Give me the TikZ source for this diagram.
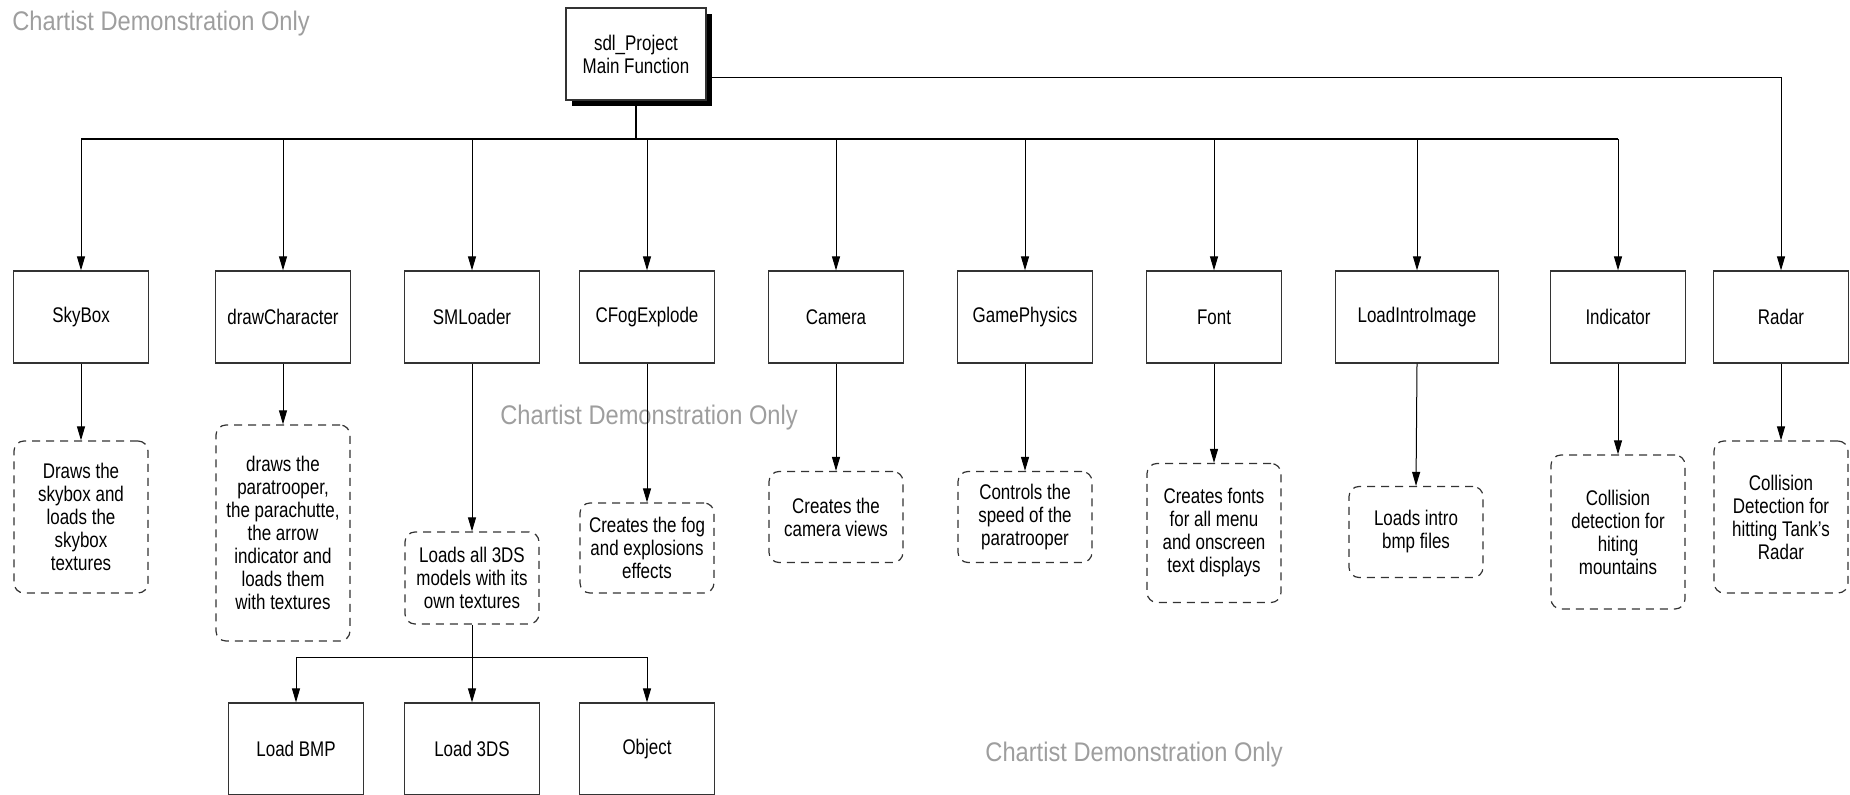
\documentclass[tikz,border=0pt]{standalone}
\usepackage{fontspec}
\setmainfont{Liberation Sans}[FakeStretch=0.8]
\newfontfamily\wmfont{Liberation Sans}[FakeStretch=0.88]
\usetikzlibrary{arrows.meta,shadows}

\begin{document}
\begin{tikzpicture}[x=0.5pt,y=-0.5pt,
  modbox/.style={draw=black!80,line width=0.6pt,fill=white,minimum width=67.5pt,minimum height=46pt,align=center,font=\fontsize{10.6}{11.5}\selectfont},
  notebox/.style={draw=black!80,dash pattern=on 4pt off 3pt,rounded corners=5pt,line width=0.6pt,minimum width=67pt,align=center,inner sep=2pt,font=\fontsize{10.6}{11.5}\selectfont},
  arr/.style={-{Triangle[length=7pt,width=4pt]},line width=0.5pt},
  wmark/.style={anchor=west,text=black!38,inner sep=0pt,font=\wmfont\fontsize{13.45}{16}\selectfont}]
\clip (0,0) rectangle (1850,795);
% watermark
\node[wmark] (wmtop) at (12,24) {Chartist Demonstration Only};
\node[wmark] (wmmid) at (500,418) {Chartist Demonstration Only};
\node[wmark] (wmbot) at (985,755) {Chartist Demonstration Only};
% main
\node[modbox,minimum width=70pt,drop shadow={shadow xshift=3pt,shadow yshift=-3pt,fill=black,opacity=1}] (main) at (636,54) {sdl\_Project\\Main Function};
\coordinate (bus) at (636,139);
\coordinate (subbus) at (472,657);
% modules
\node[modbox] (skybox) at (81,317) {SkyBox};
\node[modbox] (drawchar) at (283,317) {drawCharacter};
\node[modbox] (smloader) at (472,317) {SMLoader};
\node[modbox] (cfog) at (647,317) {CFogExplode};
\node[modbox] (camera) at (836,317) {Camera};
\node[modbox] (physics) at (1025,317) {GamePhysics};
\node[modbox] (font) at (1214,317) {Font};
\node[modbox,minimum width=81.5pt] (intro) at (1417,317) {LoadIntroImage};
\node[modbox] (indicator) at (1618,317) {Indicator};
\node[modbox] (radar) at (1781,317) {Radar};
% notes
\node[notebox,minimum height=76pt] (skybox-txt) at (81,517) {Draws the\\skybox and\\loads the\\skybox\\textures};
\node[notebox,minimum height=108pt] (drawchar-txt) at (283,533) {draws the\\paratrooper,\\the parachutte,\\the arrow\\indicator and\\loads them\\with textures};
\node[notebox,minimum height=46pt] (smloader-txt) at (472,578) {Loads all 3DS\\models with its\\own textures};
\node[notebox,minimum height=45pt] (cfog-txt) at (647,548) {Creates the fog\\and explosions\\effects};
\node[notebox,minimum height=45.5pt] (camera-txt) at (836,517) {Creates the\\camera views};
\node[notebox,minimum height=45.5pt] (physics-txt) at (1025,517) {Controls the\\speed of the\\paratrooper};
\node[notebox,minimum height=69.5pt] (font-txt) at (1214,533) {Creates fonts\\for all menu\\and onscreen\\text displays};
\node[notebox,minimum height=45.5pt] (intro-txt) at (1416,532) {Loads intro\\bmp files};
\node[notebox,minimum height=77pt] (indicator-txt) at (1618,532) {Collision\\detection for\\hiting\\mountains};
\node[notebox,minimum height=76pt] (radar-txt) at (1781,517) {Collision\\Detection for\\hitting Tank's\\Radar};
% loader parts
\node[modbox] (loadbmp) at (296,749) {Load BMP};
\node[modbox] (load3ds) at (472,749) {Load 3DS};
\node[modbox] (object) at (647,749) {Object};
% connectors
\draw[line width=0.9pt] (main.south) -- (bus);
\draw[line width=0.6pt] (skybox.north |- bus) -- (indicator.north |- bus);
\foreach \n in {skybox,drawchar,smloader,cfog,camera,physics,font,intro,indicator}
  \draw[arr] (\n.north |- bus) -- (\n.north);
\draw[arr] ([yshift=-12pt]main.east) -| (radar.north);
\foreach \n in {skybox,drawchar,smloader,cfog,camera,physics,font,intro,indicator,radar}
  \draw[arr] (\n.south) -- (\n-txt.north);
\draw (smloader-txt.south) -- (subbus);
\draw (loadbmp.north |- subbus) -- (object.north |- subbus);
\foreach \n in {loadbmp,load3ds,object}
  \draw[arr] (\n.north |- subbus) -- (\n.north);
\end{tikzpicture}
\end{document}
